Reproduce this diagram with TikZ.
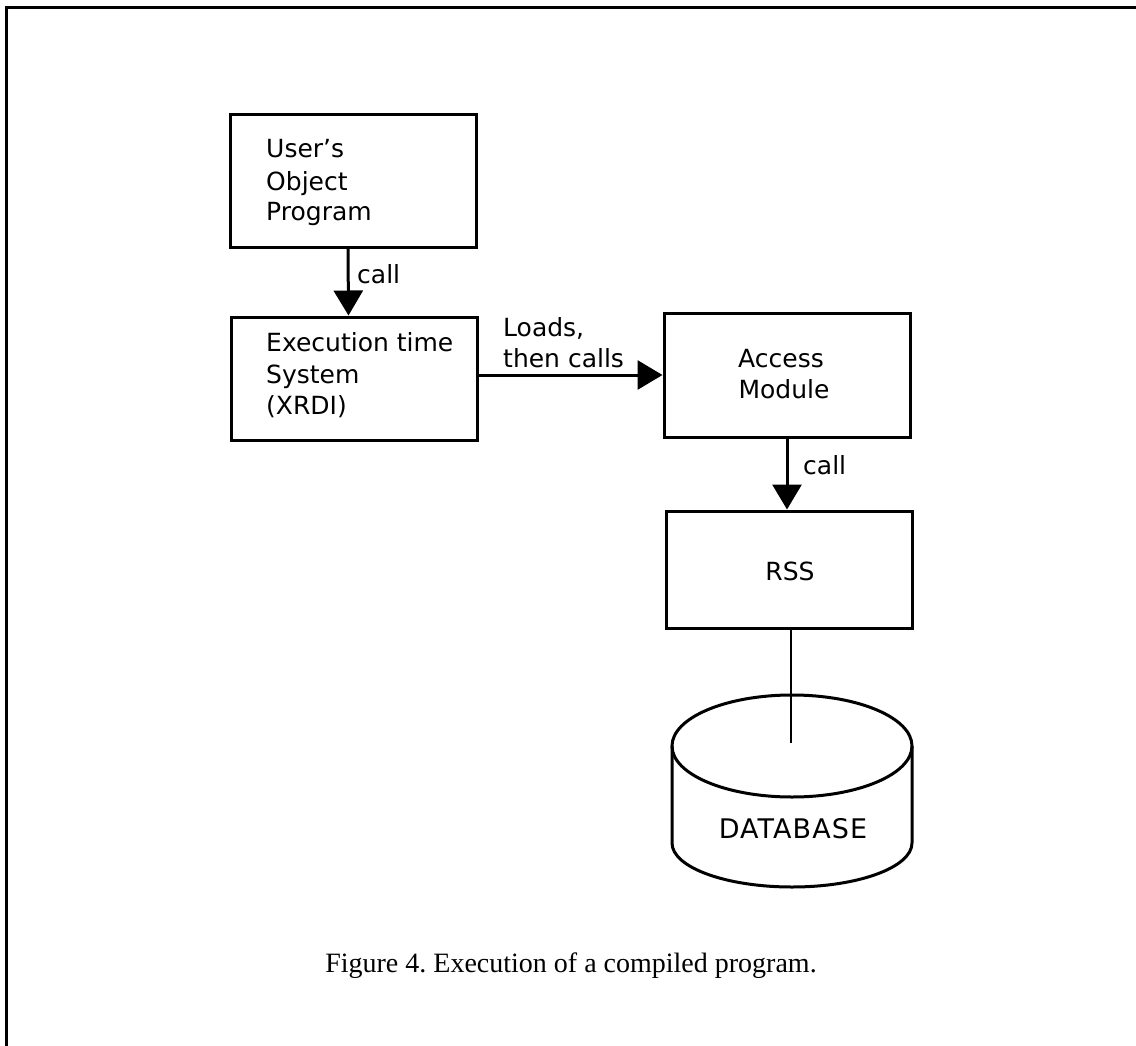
\documentclass[tikz,border=0pt]{standalone}
\usepackage{fontspec}
\newfontfamily\diagfont{DejaVu Sans}
\newfontfamily\dbfont[LetterSpace=4]{DejaVu Sans}
\newfontfamily\capfont{Liberation Serif}
\usetikzlibrary{arrows.meta}
\begin{document}
\begin{tikzpicture}[x=1pt,y=-1pt,
  box/.style={draw, line width=3pt, minimum width=246pt, minimum height=#1, inner sep=0pt},
  lbl/.style={font=\diagfont\fontsize{25}{30}\selectfont, inner sep=0pt},
  conn/.style={line width=3pt, -{Triangle[width=29pt,length=25pt]}},
  plain/.style={line width=2.5pt},
  framel/.style={line width=3pt}
]
\useasboundingbox (0,0) rectangle (1136,1046);
\fill[white] (0,0) rectangle (1136,1046);
% frame
\draw[framel] (6,1046) -- (6,8) -- (1136,8);

% boxes
\node[box=132pt] (b1) at (353.5,181) {};
\node[box=123pt] (b2) at (354,378.5) {};
\node[box=124pt] (b3) at (787,375) {};
\node[box=117pt] (rss) at (789.5,569.5) {};

% box texts
\node[lbl, anchor=base west] (t1a) at (266,158) {User’s};
\node[lbl, anchor=base west] (t1b) at (266,190) {Object};
\node[lbl, anchor=base west] (t1c) at (266,221) {Program};
\node[lbl, anchor=base west] (t2a) at (266,351) {Execution time};
\node[lbl, anchor=base west] (t2b) at (266,383) {System};
\node[lbl, anchor=base west] (t2c) at (266,414) {(XRDI)};
\node[lbl, anchor=base] (t3a) at (781,367) {Access};
\node[lbl, anchor=base] (t3b) at (784,398) {Module};
\node[lbl, anchor=base] (t4) at (790,580) {RSS};

% connectors
\draw[conn] ([xshift=-5.5pt]b1.south) -- ([xshift=-5.5pt]b2.north);
\node[lbl, anchor=base west] (c1) at (357,283) {call};
\draw[conn] (b3.west -| b2.east) -- (b3.west);
\node[lbl, anchor=base west] (c2a) at (503,336) {Loads,};
\node[lbl, anchor=base west] (c2b) at (503,367) {then calls};
\draw[conn] (b3.south) -- (b3.south |- rss.north);
\node[lbl, anchor=base west] (c3) at (803,474) {call};

% database cylinder
\coordinate (dbc) at (791,743);
\draw[plain] (rss.south -| dbc) -- (dbc);
\draw[line width=3pt] (792,746) ellipse[x radius=120, y radius=51];
\draw[line width=3pt] (672,746) -- (672,843) arc[start angle=180, end angle=0, x radius=120, y radius=44] -- (912,746);
\node[font=\dbfont\fontsize{27}{30}\selectfont, inner sep=0pt, anchor=base] (db) at (793,838) {DATABASE};

% caption
\node[font=\capfont\fontsize{28}{32}\selectfont, anchor=base, inner sep=0pt] (cap) at (571,972) {Figure 4.\ Execution of a compiled program.};
\end{tikzpicture}
\end{document}
